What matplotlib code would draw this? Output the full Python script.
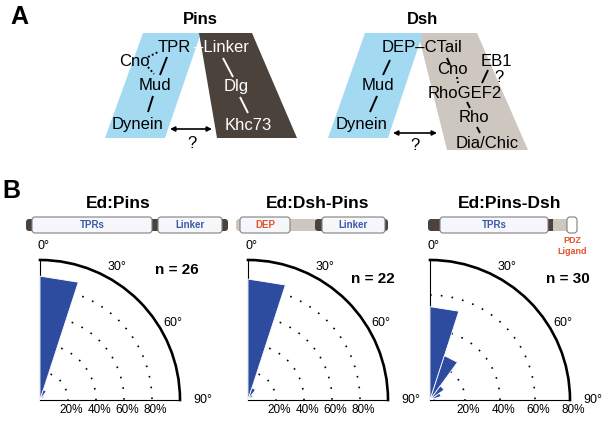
import numpy as np
import matplotlib.pyplot as plt
from matplotlib.patches import Polygon, FancyBboxPatch

plt.rcParams['font.family'] = ['Liberation Sans', 'DejaVu Sans']

# ---------- data ---------- #
constructs = ['Ed:Pins', 'Ed:Dsh-Pins', 'Ed:Pins-Dsh']
n_cells = [26, 22, 30]
bin_edges_deg = [0, 18, 36, 54, 72, 90]
counts_pins = [23, 2, 1, 0, 0]
counts_dsh_pins = [19, 2, 1, 0, 0]
counts_pins_dsh = [16, 8, 3, 2, 1]
r_max = [100, 100, 80]
r_ticks = [20, 40, 60, 80]
theta_ticks = [0, 30, 60, 90]

LIGHT_BLUE = '#a4d9f2'
DARK = '#4a423b'
BEIGE = '#cdc7c0'
WEDGE = '#2d4b9f'
LABEL_BLUE = '#3c5aa8'
LABEL_RED = '#e4532a'

fig = plt.figure(figsize=(6.02, 4.22), dpi=100)
ax0 = fig.add_axes([0, 0, 1, 1])
ax0.set_xlim(0, 602)
ax0.set_ylim(422, 0)
ax0.axis('off')


def txt(x, y, s, size=12, color='black', weight='normal', **kw):
    ax0.text(x, y, s, fontsize=size, color=color, fontweight=weight,
             ha=kw.pop('ha', 'center'), va=kw.pop('va', 'center'), **kw)


def seg(p0, p1, color='black', ls='-'):
    ax0.plot([p0[0], p1[0]], [p0[1], p1[1]], color=color, lw=1.4, ls=ls,
             solid_capstyle='butt')


def arrow(x0, x1, y):
    ax0.annotate('', xy=(x1, y), xytext=(x0, y),
                 arrowprops=dict(arrowstyle='<|-|>', color='black', lw=1.2,
                                 mutation_scale=7, shrinkA=0, shrinkB=0))


# ---------- Panel A ---------- #
txt(19, 17, 'A', size=18, weight='bold')

# Pins
txt(200, 19, 'Pins', weight='bold')
ax0.add_patch(Polygon([(143, 33), (201, 33), (165, 138), (105, 138)],
                      fc=LIGHT_BLUE, ec='none'))
ax0.add_patch(Polygon([(199, 33), (252, 33), (297, 138), (217, 138)],
                      fc=DARK, ec='none'))
txt(174, 48, 'TPR')
txt(221, 48, '\u2013Linker', color='white')
txt(134, 61, 'Cno')
seg((148, 57), (158, 52), ls=(0, (1, 1.2)))
seg((148, 67), (154, 74), ls=(0, (1, 1.2)))
seg((167, 57), (160, 75))
txt(155, 86, 'Mud')
seg((153, 96), (148, 112))
txt(138, 125, 'Dynein')
arrow(170, 212, 129)
txt(192, 143, '?')
seg((223, 58), (233, 77), color='white')
txt(236, 86, 'Dlg', color='white')
seg((240, 97), (248, 113), color='white')
txt(248, 125, 'Khc73', color='white')

# Dsh
txt(422, 19, 'Dsh', weight='bold')
ax0.add_patch(Polygon([(418, 33), (477, 33), (528, 150), (447, 150)],
                      fc=BEIGE, ec='none'))
ax0.add_patch(Polygon([(365, 33), (423, 33), (388, 138), (328, 138)],
                      fc=LIGHT_BLUE, ec='none'))
txt(422, 48, 'DEP\u2013CTail')
seg((390, 60), (383, 75))
txt(378, 86, 'Mud')
seg((377, 96), (370, 112))
txt(362, 125, 'Dynein')
arrow(393, 437, 133)
txt(415, 145, '?')
seg((447, 58), (450, 65))
txt(452, 70, 'Cno')
seg((457, 77), (458, 83), ls=(0, (1, 1.2)))
txt(465, 93, 'RhoGEF2')
txt(496, 62, 'EB1')
seg((488, 70), (482, 83))
txt(499, 78, '?')
seg((467, 102), (470, 108))
txt(474, 118, 'Rho')
seg((477, 127), (480, 133))
txt(487, 143, 'Dia/Chic')

# ---------- Panel B: domain schematics ---------- #
txt(11, 191, 'B', size=18, weight='bold')


def rbox(x0, x1, yc, h, fc, ec='none', r=3, lw=0.8, z=2):
    ax0.add_patch(FancyBboxPatch((x0, yc - h / 2), x1 - x0, h,
                                 boxstyle='round,pad=0,rounding_size=%g' % r,
                                 fc=fc, ec=ec, lw=lw, zorder=z))


BOX_FC = '#f6f7fb'
BOX_EC = '#808080'
yb = 225

# Ed:Pins
rbox(26, 228, yb, 12, DARK)
rbox(32, 152, yb, 16, BOX_FC, BOX_EC, z=3)
rbox(158, 222, yb, 16, BOX_FC, BOX_EC, z=3)
txt(92, yb, 'TPRs', size=7, color=LABEL_BLUE, weight='bold', zorder=4)
txt(190, yb, 'Linker', size=7, color=LABEL_BLUE, weight='bold', zorder=4)

# Ed:Dsh-Pins
rbox(236, 318, yb, 12, BEIGE)
rbox(315, 388, yb, 12, DARK)
rbox(240, 290, yb, 16, BOX_FC, BOX_EC, z=3)
rbox(322, 385, yb, 16, BOX_FC, BOX_EC, z=3)
txt(265, yb, 'DEP', size=7, color=LABEL_RED, weight='bold', zorder=4)
txt(353, yb, 'Linker', size=7, color=LABEL_BLUE, weight='bold', zorder=4)

# Ed:Pins-Dsh
rbox(428, 558, yb, 12, DARK)
rbox(553, 570, yb, 12, BEIGE, r=0.5)
rbox(440, 548, yb, 16, BOX_FC, BOX_EC, z=3)
rbox(567, 577, yb, 16, 'white', BOX_EC, z=3)
txt(494, yb, 'TPRs', size=7, color=LABEL_BLUE, weight='bold', zorder=4)
txt(572, 246, 'PDZ\nLigand', size=6.5, color=LABEL_RED, weight='bold',
    linespacing=1.2)

# ---------- Panel B: rose plots ---------- #
all_counts = [counts_pins, counts_dsh_pins, counts_pins_dsh]
origins = [(40, 400), (248, 400), (430, 400)]
title_x = [118, 318, 510]
n_pos = [(177, 270), (373, 279), (568, 279)]
R_PX = 140

edges = np.deg2rad(bin_edges_deg)

for i in range(3):
    ox, oy = origins[i]
    ax = fig.add_axes([ox / 602, (422 - oy) / 422, R_PX / 602, R_PX / 422],
                      projection='polar')
    ax.set_theta_zero_location('N')
    ax.set_theta_direction(-1)
    ax.set_thetamin(0)
    ax.set_thetamax(90)
    ax.set_rlim(0, r_max[i])
    ax.patch.set_alpha(0)

    # rose petals are triangles (straight outer edge), one per bin
    pct = np.array(all_counts[i]) / n_cells[i] * 100
    for k, p in enumerate(pct):
        if p == 0:
            continue
        ax.fill([edges[k], edges[k], edges[k + 1]], [0, p, p],
                facecolor=WEDGE, edgecolor='white', linewidth=0.6, zorder=3)

    ax.set_axisbelow(True)
    ax.set_xticks(np.deg2rad(theta_ticks))
    ax.set_xticklabels([])
    grid_r = [t for t in r_ticks if t < r_max[i]]
    ax.set_yticks(grid_r)
    ax.set_yticklabels([])
    ax.xaxis.grid(False)
    ax.yaxis.grid(True, color='black', linestyle=(0, (1, 5.5)), linewidth=1.2)
    ax.tick_params(length=0)
    ax.spines['polar'].set_linewidth(1.9)
    ax.spines['start'].set_visible(False)
    ax.spines['end'].set_visible(False)

    for t in r_ticks:
        ax.annotate('%d%%' % t, xy=(np.pi / 2, t), xytext=(3, -10),
                    textcoords='offset pixels', ha='center', va='center',
                    fontsize=8.5, annotation_clip=False)
    for t in theta_ticks:
        rr = r_max[i] * (1.10 if t < 90 else 1.16)
        dx = 3 if t == 0 else 0
        ax.annotate('%d\u00b0' % t, xy=(np.deg2rad(t), rr), xytext=(dx, 0),
                    textcoords='offset pixels', ha='center', va='center',
                    fontsize=9, annotation_clip=False)

    txt(title_x[i], 203, constructs[i], size=12.5, weight='bold')
    txt(n_pos[i][0], n_pos[i][1], 'n = %d' % n_cells[i], size=11,
        weight='bold')

fig.savefig('out.png', dpi=100)
